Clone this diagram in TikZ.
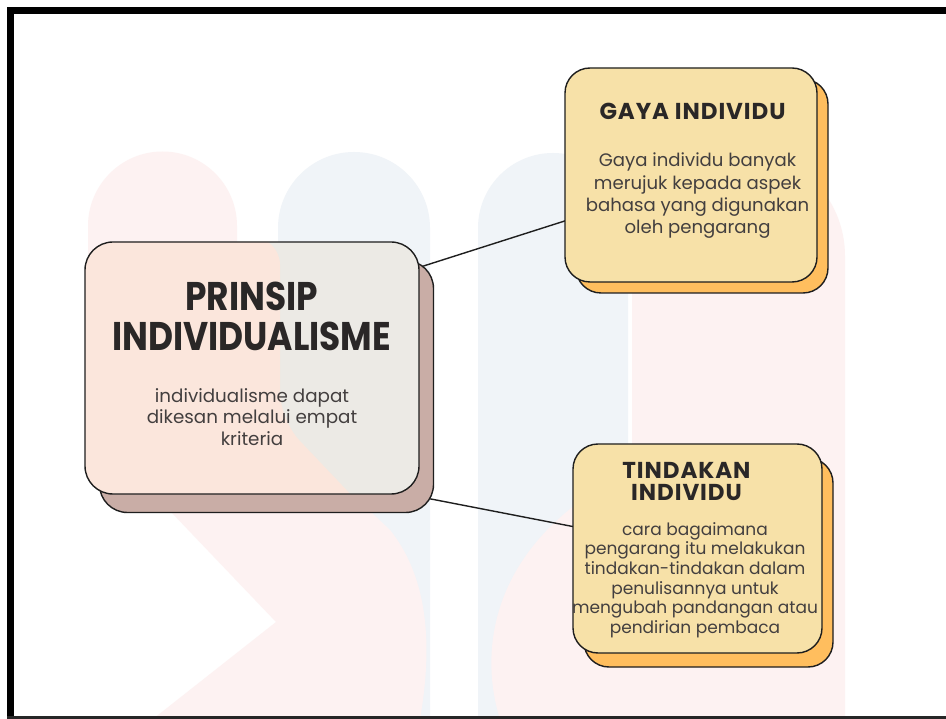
\documentclass[tikz,border=0pt]{standalone}
\usepackage{fontspec}
\setmainfont{Poppins}
\newfontfamily\titlefont{Poppins}[FakeStretch=0.86]
\newfontfamily\smalltitlefont{Poppins}[LetterSpace=4]
\usetikzlibrary{calc}
\definecolor{edge}{HTML}{1E1E1E}
\definecolor{titlecol}{HTML}{2A2727}
\definecolor{bodycol}{HTML}{433F3F}
\definecolor{mainsh}{HTML}{C9ADA6}
\definecolor{mainfr}{HTML}{ECEAE5}
\definecolor{mainpink}{HTML}{FBE6DC}
\definecolor{yelfr}{HTML}{F7E1A8}
\definecolor{yelsh}{HTML}{FFBE5E}
\definecolor{wpink}{HTML}{FDF2F2}
\definecolor{wblue}{HTML}{F0F4F8}
\pgfdeclarelayer{bg}
\pgfsetlayers{bg,main}
\begin{document}
\begin{tikzpicture}[x=1pt,y=-1pt,
  box/.style={rectangle, draw=edge, line width=1.4pt, inner sep=0pt},
  ttl/.style={align=center, text=titlecol, inner sep=0pt},
  bdy/.style={align=center, text=bodycol, inner sep=0pt},
  link/.style={draw=edge, line width=1.4pt, shorten <=-4pt, shorten >=-4pt}]
\useasboundingbox (0,0) rectangle (946,719);

% main box
\node[box, rounded corners=28pt, fill=mainsh, minimum width=334pt, minimum height=252pt] (mainsh) at (266.5,386.5) {};
\node[box, rounded corners=28pt, fill=mainfr, minimum width=334pt, minimum height=252pt,
  path picture={\fill[mainpink] ([xshift=-5pt,yshift=5pt]path picture bounding box.north west)
     -- ([xshift=195pt,yshift=5pt]path picture bounding box.north west)
     -- ([xshift=195pt,yshift=-178pt]path picture bounding box.north west)
     -- ([xshift=290pt,yshift=-278pt]path picture bounding box.north west)
     -- ([xshift=-5pt,yshift=-278pt]path picture bounding box.north west) -- cycle;}] (mainfr) at (252,368) {};
% gaya box
\node[box, rounded corners=25pt, fill=yelsh, minimum width=252pt, minimum height=214pt] (gayash) at (702,186) {};
\node[box, rounded corners=25pt, fill=yelfr, minimum width=252pt, minimum height=214pt] (gayafr) at (691,175) {};
% tindakan box
\node[box, rounded corners=25pt, fill=yelsh, minimum width=249pt, minimum height=209pt] (tindsh) at (708.5,562.5) {};
\node[box, rounded corners=25pt, fill=yelfr, minimum width=249pt, minimum height=209pt] (tindfr) at (697.5,548.5) {};

% texts
\node[ttl, font=\titlefont\bfseries\fontsize{40}{40}\selectfont] (maint) at (251.5,316) {PRINSIP\\INDIVIDUALISME};
\node[bdy, font=\fontsize{18.3}{21.5}\selectfont] (mainb) at (252,417) {individualisme dapat\\dikesan melalui empat\\kriteria};
\node[ttl, font=\smalltitlefont\bfseries\fontsize{23}{26}\selectfont] (gayat) at (692.5,111) {GAYA INDIVIDU};
\node[bdy, font=\fontsize{18.1}{22.3}\selectfont] (gayab) at (697.5,196) {Gaya individu banyak\\merujuk kepada aspek\\bahasa yang digunakan\\oleh pengarang};
\node[ttl, font=\smalltitlefont\bfseries\fontsize{23}{22}\selectfont] (tindt) at (686.5,482) {TINDAKAN\\INDIVIDU};
\node[bdy, font=\fontsize{17}{19.6}\selectfont] (tindb) at (695,580) {cara bagaimana\\pengarang itu melakukan\\tindakan-tindakan dalam\\penulisannya untuk\\mengubah pandangan atau\\pendirian pembaca};

\begin{pgfonlayer}{bg}
  \fill[white] (0,0) rectangle (946,719);
  % watermark
  \fill[wblue] (278,719) -- (278,228) arc[start angle=180, end angle=360, radius=76] -- (430,719) -- cycle;
  \fill[wblue] (478,719) -- (478,228) arc[start angle=180, end angle=360, radius=75] -- (628,719) -- cycle;
  \fill[wpink] (88,226) arc[start angle=180, end angle=360, radius=74.5] -- (237,380) -- (300,445) -- (390,530)
     .. controls (430,580) and (432,650) .. (420,719) -- (153,719) -- (276,622) -- (88,425) -- cycle;
  \fill[wpink] (632,256) arc[start angle=180, end angle=360, radius=106.5] -- (845,719) -- (500,719)
     .. controls (478,650) and (490,540) .. (632,470) -- cycle;
  % connectors
  \draw[link] (mainfr.31.5) -- (gayafr.200.5);
  \draw[link] (mainsh.326.4) -- (tindfr.170.2);
\end{pgfonlayer}

% frame
\fill[black] (7,7) rectangle (946,14);
\fill[black] (7,7) rectangle (14,719);
\fill[black!85] (7,716) rectangle (946,719);
\end{tikzpicture}
\end{document}
